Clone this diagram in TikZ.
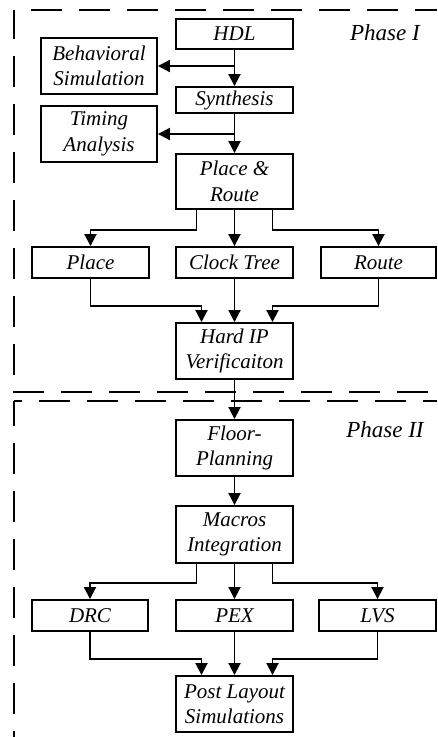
\documentclass[tikz,border=0pt]{standalone}
\usepackage{fontspec}
\setmainfont{Liberation Serif}
\usetikzlibrary{arrows.meta}
\begin{document}
\begin{tikzpicture}[x=1pt,y=-1pt,
  box/.style={draw, line width=1.9pt, minimum width=117pt, align=center, inner sep=0pt,
    font=\fontsize{21}{25.5}\selectfont\itshape},
  lbl/.style={font=\fontsize{23}{26}\selectfont\itshape, inner sep=0pt},
  arr/.style={line width=1.9pt, -{Triangle[width=12pt,length=12pt]}},
  dsh/.style={line width=1.9pt, dash pattern=on 31pt off 17pt}]
\useasboundingbox (0,0) rectangle (437,737);

% dashed phase frames
\draw[dsh, dash phase=31pt] (14,10) -- (437,10);
\draw[dsh, dash phase=2pt] (14,10) -- (14,392);
\draw[dsh] (13,392) -- (437,392);
\draw[dsh, dash phase=23pt] (14,401) -- (437,401);
\draw[dsh, dash phase=6pt] (14,401) -- (14,737);

\node[lbl] (ph1) at (385,33) {Phase I};
\node[lbl] (ph2) at (385,430) {Phase II};

% nodes
\node[box, minimum height=30pt] (hdl) at (234.5,34) {HDL};
\node[box, minimum width=116pt, minimum height=56pt] (beh) at (99,66) {Behavioral\\Simulation};
\node[box, minimum height=26pt] (syn) at (234.5,100) {Synthesis};
\node[box, minimum width=116pt, minimum height=56pt] (tim) at (99,134) {Timing\\Analysis};
\node[box, minimum height=55pt] (pr) at (234.5,181.5) {Place \&\\Route};
\node[box, minimum height=31pt] (place) at (90.5,262.5) {Place};
\node[box, minimum height=31pt] (clk) at (234.5,262.5) {Clock Tree};
\node[box, minimum width=115pt, minimum height=31pt] (route) at (378.5,262.5) {Route};
\node[box, minimum height=56pt] (hip) at (234.5,351) {Hard IP\\Verificaiton};
\node[box, minimum height=56pt] (flp) at (234.5,448) {Floor-\\Planning};
\node[box, minimum height=57pt] (mac) at (234.5,534.5) {Macros\\Integration};
\node[box, minimum width=116pt, minimum height=31pt] (drc) at (90,615.5) {DRC};
\node[box, minimum height=31pt] (pex) at (234.5,615.5) {PEX};
\node[box, minimum height=31pt] (lvs) at (377.5,615.5) {LVS};
\node[box, minimum height=56pt] (pls) at (234.5,704) {Post Layout\\Simulations};

% connectors phase I
\draw[arr] (hdl.south) -- (syn.north);
\draw[arr] (hdl.south |- beh.east) -- (beh.east);
\draw[arr] (syn.south) -- (pr.north);
\draw[arr] (syn.south |- tim.east) -- (tim.east);
\draw[arr] ([xshift=-38pt]pr.south) -- ++(0,20) -| (place.north);
\draw[arr] (pr.south) -- (clk.north);
\draw[arr] ([xshift=38pt]pr.south) -- ++(0,20) -| (route.north);
\draw[arr] (place.south) -- ++(0,27) -| ([xshift=-33pt]hip.north);
\draw[arr] (clk.south) -- (hip.north);
\draw[arr] (route.south) -- ++(0,27) -| ([xshift=38pt]hip.north);

% connectors phase II
\draw[arr] (hip.south) -- (flp.north);
\draw[arr] (flp.south) -- (mac.north);
\draw[arr] ([xshift=-38pt]mac.south) -- ++(0,19) -| (drc.north);
\draw[arr] (mac.south) -- (pex.north);
\draw[arr] ([xshift=38pt]mac.south) -- ++(0,19) -| (lvs.north);
\draw[arr] (drc.south) -- ++(0,27) -| ([xshift=-33pt]pls.north);
\draw[arr] (pex.south) -- (pls.north);
\draw[arr] (lvs.south) -- ++(0,27) -| ([xshift=38pt]pls.north);
\end{tikzpicture}
\end{document}
